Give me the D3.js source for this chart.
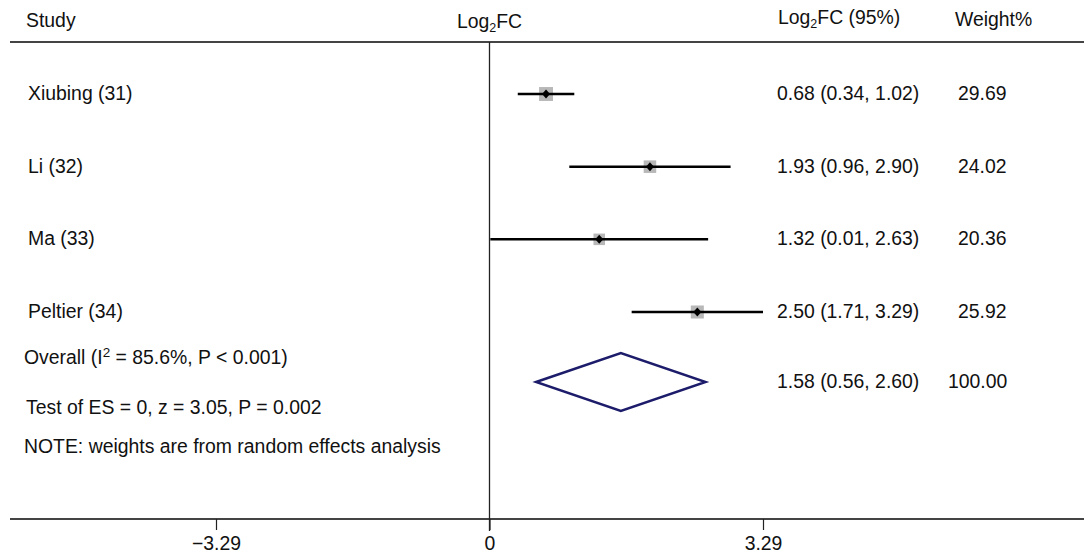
<!DOCTYPE html>
<html>
<head>
<script src="https://cdn.jsdelivr.net/npm/d3@7"></script>
<style>
  body { margin: 0; background: #fff; }
  svg { font-family: "Liberation Sans", Arial, sans-serif; font-size: 19.4px; }
  text { fill: #111; }
</style>
</head>
<body>
<svg width="1084" height="558"></svg>
<script>
// study data
const studies = ["Xiubing (31)", "Li (32)", "Ma (33)", "Peltier (34)"];
const estimate = [0.68, 1.93, 1.32, 2.50];
const lower = [0.34, 0.96, 0.01, 1.71];
const upper = [1.02, 2.90, 2.63, 3.29];
const weights = [29.69, 24.02, 20.36, 25.92];
const estText = ["0.68 (0.34, 1.02)", "1.93 (0.96, 2.90)", "1.32 (0.01, 2.63)", "2.50 (1.71, 3.29)"];
const weightText = ["29.69", "24.02", "20.36", "25.92"];

// pooled
const overall = { est: 1.58, lo: 0.56, hi: 2.60, text: "1.58 (0.56, 2.60)", weight: "100.00" };
const tickValues = [-3.29, 0, 3.29];
const tickLabels = ["\u22123.29", "0", "3.29"];

const svg = d3.select("svg");

const x = d3.scaleLinear().domain([-3.29, 3.29]).range([216, 763]);
const y = d3.scalePoint().domain(studies).range([94, 312]);
const sq = d3.scaleSqrt().domain([0, 30]).range([0, 14]);

const topY = 42, axisY = 519;

// header
svg.append("text").attr("x", 26).attr("y", 27).text("Study");
const h = svg.append("text").attr("x", x(0)).attr("y", 28).attr("text-anchor", "middle");
h.append("tspan").text("Log");
h.append("tspan").attr("font-size", 12.5).attr("dy", 4).text("2");
h.append("tspan").attr("dy", -4).text("FC");
const h2 = svg.append("text").attr("x", 778).attr("y", 24);
h2.append("tspan").text("Log");
h2.append("tspan").attr("font-size", 12.5).attr("dy", 4).text("2");
h2.append("tspan").attr("dy", -4).text("FC (95%)");
svg.append("text").attr("x", 955).attr("y", 26).text("Weight%");

// rules
svg.append("line").attr("x1", 10).attr("x2", 1084).attr("y1", topY).attr("y2", topY)
  .attr("stroke", "#444").attr("stroke-width", 2);
svg.append("line").attr("x1", 10).attr("x2", 1084).attr("y1", axisY).attr("y2", axisY)
  .attr("stroke", "#444").attr("stroke-width", 2);

// null line
svg.append("line").attr("x1", x(0)).attr("x2", x(0)).attr("y1", topY).attr("y2", axisY + 12)
  .attr("stroke", "#222").attr("stroke-width", 1.3);

// axis
const axis = d3.axisBottom(x).tickValues(tickValues)
  .tickFormat((d, i) => tickLabels[i]).tickSize(11).tickPadding(6);
const ax = svg.append("g").attr("transform", `translate(0,${axisY})`).call(axis);
ax.select(".domain").remove();
ax.selectAll(".tick line").attr("stroke", "#222").attr("stroke-width", 1.2);
ax.selectAll(".tick text").attr("font-size", 19.4).attr("fill", "#111")
  .attr("font-family", "'Liberation Sans', Arial, sans-serif");

// study rows
const rows = svg.append("g").selectAll("g").data(studies).join("g");

rows.append("text").attr("x", 28).attr("y", d => y(d) + 6).text(d => d);

rows.append("rect")
  .attr("x", (d, i) => x(estimate[i]) - sq(weights[i]) / 2)
  .attr("y", (d, i) => y(d) - sq(weights[i]) / 2)
  .attr("width", (d, i) => sq(weights[i]))
  .attr("height", (d, i) => sq(weights[i]))
  .attr("fill", "#b8b8b8");

rows.append("line")
  .attr("x1", (d, i) => x(lower[i])).attr("x2", (d, i) => x(upper[i]))
  .attr("y1", d => y(d)).attr("y2", d => y(d))
  .attr("stroke", "#000").attr("stroke-width", 2.5);

rows.append("path")
  .attr("d", (d, i) => {
    const cx = x(estimate[i]), cy = y(d);
    return `M${cx - 4},${cy}L${cx},${cy - 4.5}L${cx + 4},${cy}L${cx},${cy + 4.5}Z`;
  })
  .attr("fill", "#000");

rows.append("text").attr("x", 777).attr("y", d => y(d) + 6).text((d, i) => estText[i]);
rows.append("text").attr("x", 958).attr("y", d => y(d) + 6).text((d, i) => weightText[i]);

// overall diamond
const dy = 382;
svg.append("path")
  .attr("d", `M${x(overall.lo)},${dy}L${x(overall.est)},${dy - 29}L${x(overall.hi)},${dy}L${x(overall.est)},${dy + 29}Z`)
  .attr("fill", "none").attr("stroke", "#1c1c6b").attr("stroke-width", 2.4);

const ov = svg.append("text").attr("x", 24).attr("y", 364);
ov.append("tspan").text("Overall (I");
ov.append("tspan").attr("font-size", 13.5).attr("dy", -7).text("2");
ov.append("tspan").attr("dy", 7).text(" = 85.6%, P < 0.001)");

svg.append("text").attr("x", 26).attr("y", 414).text("Test of ES = 0, z = 3.05, P = 0.002");
svg.append("text").attr("x", 24).attr("y", 453).text("NOTE: weights are from random effects analysis");

svg.append("text").attr("x", 777).attr("y", 388).text(overall.text);
svg.append("text").attr("x", 948).attr("y", 388).text(overall.weight);
</script>
</body>
</html>
